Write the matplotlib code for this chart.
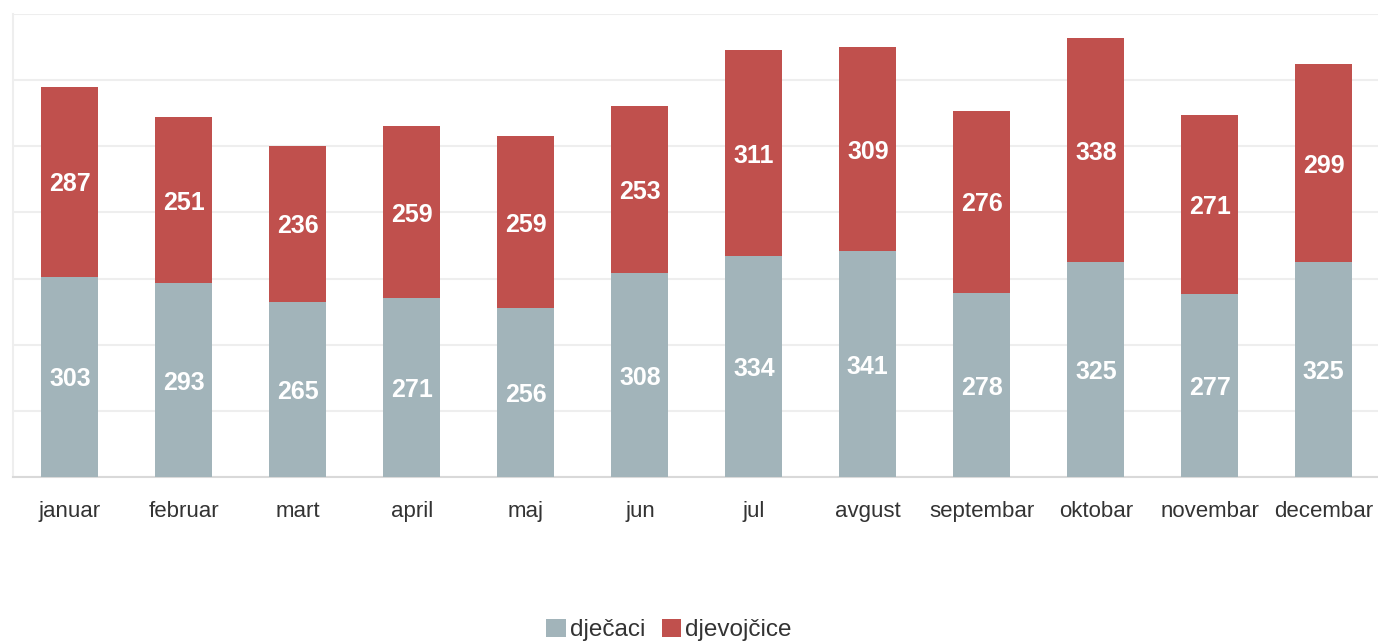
import matplotlib
matplotlib.use("Agg")
import matplotlib.pyplot as plt
import numpy as np

months = ["januar", "februar", "mart", "april", "maj", "jun", "jul",
          "avgust", "septembar", "oktobar", "novembar", "decembar"]
djecaci = [303, 293, 265, 271, 256, 308, 334, 341, 278, 325, 277, 325]
djevojcice = [287, 251, 236, 259, 259, 253, 311, 309, 276, 338, 271, 299]
series_names = ["dječaci", "djevojčice"]

plt.rcParams['font.family'] = ['Liberation Sans', 'DejaVu Sans']

fig = plt.figure(figsize=(13.78, 6.42), dpi=100)
ax = fig.add_axes([13/1378, 1 - 477/642, 1 - 13/1378 + 0.002, 463/642])

x = np.arange(len(months))
c1 = "#A2B4BA"
c2 = "#C0504D"
b1 = ax.bar(x, djecaci, width=0.5, color=c1, label=series_names[0], zorder=3)
b2 = ax.bar(x, djevojcice, width=0.5, bottom=djecaci, color=c2,
            label=series_names[1], zorder=3)

for xi, v1, v2 in zip(x, djecaci, djevojcice):
    ax.text(xi, v1 / 2, str(v1), ha="center", va="center_baseline", color="white",
            fontsize=18, fontweight="bold", zorder=4)
    ax.text(xi, v1 + v2 / 2, str(v2), ha="center", va="center_baseline", color="white",
            fontsize=18, fontweight="bold", zorder=4)

ax.set_xlim(-0.5, len(months) - 0.5)
ax.set_ylim(0, 700)
ax.set_yticks(np.arange(0, 701, 100))
ax.set_yticklabels([])
ax.tick_params(axis="y", length=0)
ax.tick_params(axis="x", length=0, pad=17, labelsize=16, labelcolor="#333333")
ax.set_xticks(x)
ax.set_xticklabels(months)
ax.grid(axis="y", color="#EEEEEE", linewidth=1.5, zorder=0)
for s in ["top", "right"]:
    ax.spines[s].set_visible(False)
ax.spines["left"].set_color("#EEEEEE")
ax.spines["left"].set_linewidth(1.5)
ax.spines["bottom"].set_color("#D9D9D9")
ax.spines["bottom"].set_linewidth(1.5)

fig.legend(handles=[b1, b2], labels=series_names, loc="center",
           bbox_to_anchor=(669/1378, 1 - 630/642), ncol=2, frameon=False,
           fontsize=17.5, handlelength=0.8, handleheight=0.8, handletextpad=0.15,
           columnspacing=0.7, labelcolor="#333333")

fig.savefig("out.png", dpi=100)
